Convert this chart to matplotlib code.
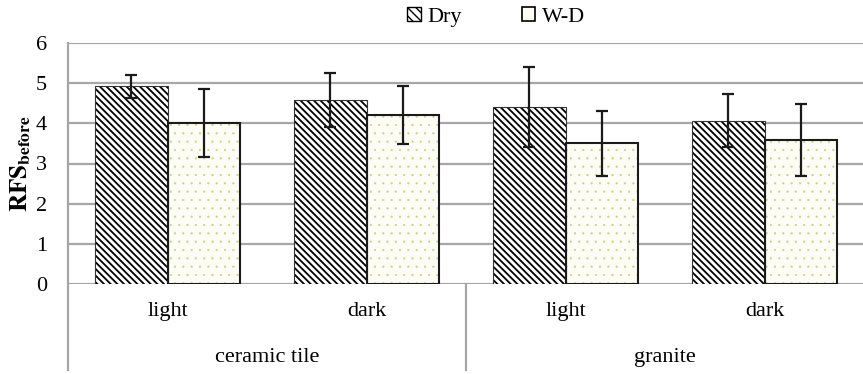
import numpy as np
import matplotlib
matplotlib.use('Agg')
import matplotlib.pyplot as plt
from matplotlib.patches import Patch

plt.rcParams['font.family'] = ['Liberation Serif', 'DejaVu Serif']
plt.rcParams['mathtext.fontset'] = 'stix'

# data
materials = ['ceramic tile', 'granite']
shades = ['light', 'dark', 'light', 'dark']
dry = [4.92, 4.58, 4.41, 4.07]
dry_err = [0.29, 0.67, 1.00, 0.66]
wd = [4.00, 4.20, 3.50, 3.58]
wd_err = [0.85, 0.72, 0.80, 0.90]

grid_col = '#a6a6a6'
dot_col = '#c2d488'
wd_face = '#fdfdf6'

fig = plt.figure(figsize=(8.63, 3.74), dpi=100)
ax = fig.add_axes([68 / 863, 1 - 284 / 374, 796 / 863, 241 / 374])

x = np.arange(len(shades))
w = 0.365

# Dry bars (hatch linewidth is taken from rcParams when the patch is made)
plt.rcParams['hatch.linewidth'] = 1.3
ax.bar(x - w / 2, dry, w, facecolor='white', edgecolor='black', hatch='\\\\\\\\\\',
       linewidth=0, zorder=3)
ax.bar(x - w / 2, dry, w, fill=False, edgecolor='#333333', linewidth=0.8, zorder=4)
ax.errorbar(x - w / 2, dry, yerr=dry_err, fmt='none', ecolor='#1a1a1a',
            elinewidth=1.6, capsize=4.5, capthick=1.6, zorder=5)

# W-D bars
plt.rcParams['hatch.linewidth'] = 0.35
ax.bar(x + w / 2, wd, w, facecolor=wd_face, edgecolor=dot_col, hatch='..',
       linewidth=0, zorder=3)
ax.bar(x + w / 2, wd, w, fill=False, edgecolor='#1a1a1a', linewidth=1.5, zorder=4)
ax.errorbar(x + w / 2, wd, yerr=wd_err, fmt='none', ecolor='#1a1a1a',
            elinewidth=1.6, capsize=4.5, capthick=1.6, zorder=5)

ax.set_xlim(-0.5, 3.5)
ax.set_ylim(0, 6)
ax.set_yticks(range(7))
ax.tick_params(axis='y', length=0, labelsize=16, pad=15)
ax.set_xticks([])
ax.yaxis.grid(True, color=grid_col, linewidth=1.6)
ax.set_axisbelow(True)
for s in ax.spines.values():
    s.set_visible(False)

# axis line and category separator
ax.plot([-0.5, -0.5], [-0.357 * 6, 6], color=grid_col, lw=1.6, clip_on=False)
ax.plot([1.5, 1.5], [0, -0.357 * 6], color=grid_col, lw=1.6, clip_on=False)

for xi, lab in zip(x, shades):
    ax.text(xi, -0.116, lab, transform=ax.get_xaxis_transform(), ha='center',
            va='center', fontsize=16)
for i, lab in enumerate(materials):
    ax.text(0.5 + 2 * i, -0.305, lab, transform=ax.get_xaxis_transform(),
            ha='center', va='center', fontsize=16)

ax.set_ylabel(r'$\mathbf{RFS}_{\mathbf{before}}$', fontsize=18, labelpad=2)

plt.rcParams['hatch.linewidth'] = 1.0
handles = [Patch(facecolor='white', edgecolor='black', hatch='\\\\\\\\', linewidth=1),
           Patch(facecolor=wd_face, edgecolor='black', linewidth=1.2)]
fig.legend(handles, ['Dry', 'W-D'], loc='center', bbox_to_anchor=(496 / 863, 1 - 17 / 374),
           ncol=2, frameon=False, fontsize=16, handlelength=0.6, handleheight=0.6,
           handletextpad=0.3, columnspacing=2.7)

fig.savefig('out.png', dpi=100)
